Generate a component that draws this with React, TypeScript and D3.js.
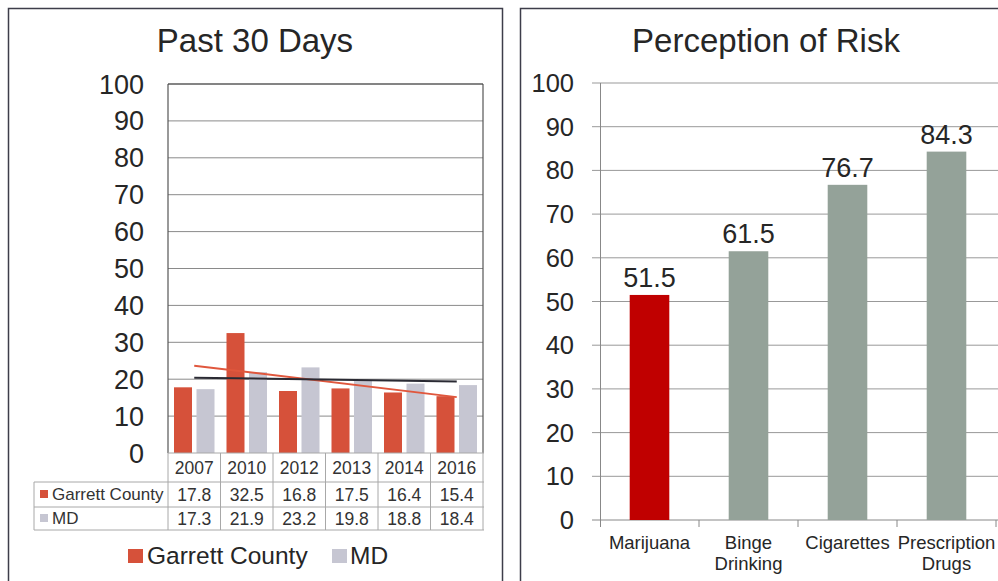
import React from "react";
import * as d3 from "d3";

const years = ["2007", "2010", "2012", "2013", "2014", "2016"];
const garrett = [17.8, 32.5, 16.8, 17.5, 16.4, 15.4];
const md = [17.3, 21.9, 23.2, 19.8, 18.8, 18.4];
const seriesNames = ["Garrett County", "MD"];
const leftTicks = [0, 10, 20, 30, 40, 50, 60, 70, 80, 90, 100];

const riskCats = [["Marijuana"], ["Binge", "Drinking"], ["Cigarettes"], ["Prescription", "Drugs"]];
const riskVals = [51.5, 61.5, 76.7, 84.3];
const rightTicks = [0, 10, 20, 30, 40, 50, 60, 70, 80, 90, 100];

const RED = "#D6513A";
const LAV = "#C6C6D2";
const DARKRED = "#C00000";
const SAGE = "#94A299";
const FONT = "'Liberation Sans', Arial, sans-serif";
const TXT = "#262626";

function regression(vals: number[]) {
  const n = vals.length;
  const xs = vals.map((_, i) => i + 1);
  const mx = d3.mean(xs) as number;
  const my = d3.mean(vals) as number;
  let sxy = 0, sxx = 0;
  xs.forEach((x, i) => { sxy += (x - mx) * (vals[i] - my); sxx += (x - mx) ** 2; });
  const b = sxy / sxx;
  const a = my - b * mx;
  return [a + b * 1, a + b * n];
}

export default function App() {
  const lx = d3.scaleBand<string>().domain(years).range([168, 483]);
  const ly = d3.scaleLinear().domain([0, 100]).range([453, 84]);
  const inner = d3.scaleBand<string>().domain(["g", "m"]).range([6, lx.bandwidth() - 6]).paddingInner(0.2);
  const gTrend = regression(garrett);
  const mTrend = regression(md);
  const xFirst = (lx(years[0]) as number) + lx.bandwidth() / 2;
  const xLast = (lx(years[years.length - 1]) as number) + lx.bandwidth() / 2;

  const rx = d3.scaleBand<number>().domain(riskVals.map((_, i) => i)).range([600, 996]).paddingInner(0.6).paddingOuter(0.3);
  const ry = d3.scaleLinear().domain([0, 100]).range([520, 83]);

  const rowY = [453, 482, 507, 530];
  const tableLeft = 34;

  return (
    <svg width={998} height={581} style={{ position: "absolute", left: 0, top: 0, fontFamily: FONT }}>
      <rect x={0} y={0} width={998} height={581} fill="#fff" />
      {/* Left panel */}
      <rect x={8.5} y={8.5} width={494} height={600} fill="#fff" stroke="#3d3d4a" strokeWidth={1.5} />
      <text x={255} y={52} textAnchor="middle" fontSize={33} fill={TXT}>Past 30 Days</text>
      {leftTicks.map((t) => (
        <g key={t}>
          {t > 0 && <line x1={168} x2={483} y1={ly(t)} y2={ly(t)} stroke="#8a8a8a" strokeWidth={1} />}
          <text x={144} y={ly(t) + 9.5} textAnchor="end" fontSize={27} fill={TXT}>{t}</text>
        </g>
      ))}
      <line x1={168} x2={168} y1={84} y2={453} stroke="#555" strokeWidth={1.2} />
      <line x1={483} x2={483} y1={84} y2={453} stroke="#555" strokeWidth={1.2} />
      <line x1={168} x2={483} y1={84} y2={84} stroke="#444" strokeWidth={1.2} />
      {years.map((yr, i) => (
        <g key={yr}>
          <rect x={(lx(yr) as number) + (inner("g") as number)} width={inner.bandwidth()} y={ly(garrett[i])} height={ly(0) - ly(garrett[i])} fill={RED} />
          <rect x={(lx(yr) as number) + (inner("m") as number)} width={inner.bandwidth()} y={ly(md[i])} height={ly(0) - ly(md[i])} fill={LAV} />
        </g>
      ))}
      <line x1={xFirst} x2={xLast} y1={ly(gTrend[0])} y2={ly(gTrend[1])} stroke="#E0573D" strokeWidth={2} />
      <line x1={xFirst} x2={xLast} y1={ly(mTrend[0])} y2={ly(mTrend[1])} stroke="#2a2a33" strokeWidth={2} />
      {/* data table */}
      <g stroke="#a8a8a8" strokeWidth={1} fill="none">
        <line x1={168} x2={484} y1={rowY[0]} y2={rowY[0]} />
        <line x1={tableLeft} x2={484} y1={rowY[1]} y2={rowY[1]} />
        <line x1={tableLeft} x2={484} y1={rowY[2]} y2={rowY[2]} />
        <line x1={tableLeft} x2={484} y1={rowY[3]} y2={rowY[3]} />
        <line x1={tableLeft} x2={tableLeft} y1={rowY[1]} y2={rowY[3]} />
        <line x1={168} x2={168} y1={rowY[0]} y2={rowY[3]} />
        {years.map((yr) => (
          <line key={yr} x1={(lx(yr) as number) + lx.bandwidth()} x2={(lx(yr) as number) + lx.bandwidth()} y1={rowY[0]} y2={rowY[3]} />
        ))}
      </g>
      {years.map((yr, i) => {
        const cx = (lx(yr) as number) + lx.bandwidth() / 2;
        return (
          <g key={yr} fontSize={17.5} fill="#333" textAnchor="middle">
            <text x={cx} y={474}>{yr}</text>
            <text x={cx} y={501}>{garrett[i].toFixed(1)}</text>
            <text x={cx} y={525}>{md[i].toFixed(1)}</text>
          </g>
        );
      })}
      <rect x={40} y={490} width={8} height={8} fill={RED} />
      <text x={52} y={500} fontSize={17} fill="#333">{seriesNames[0]}</text>
      <rect x={40} y={514} width={8} height={8} fill={LAV} />
      <text x={52} y={524} fontSize={17} fill="#333">{seriesNames[1]}</text>
      {/* legend */}
      <rect x={128} y={549} width={15} height={14} fill={RED} />
      <text x={147} y={564} fontSize={24.5} fill={TXT}>{seriesNames[0]}</text>
      <rect x={332} y={549} width={15} height={14} fill={LAV} />
      <text x={350} y={564} fontSize={24.5} fill={TXT}>{seriesNames[1]}</text>

      {/* Right panel */}
      <rect x={520.5} y={8.5} width={500} height={600} fill="#fff" stroke="#3d3d4a" strokeWidth={1.5} />
      <text x={766} y={52} textAnchor="middle" fontSize={33} fill={TXT}>Perception of Risk</text>
      {rightTicks.map((t) => (
        <g key={t}>
          <line x1={592} x2={998} y1={ry(t)} y2={ry(t)} stroke={t === 0 ? "#888" : "#999"} strokeWidth={1} />
          <text x={574} y={ry(t) + 9} textAnchor="end" fontSize={25.5} fill={TXT}>{t}</text>
        </g>
      ))}
      <line x1={600.5} x2={600.5} y1={83} y2={527} stroke="#888" strokeWidth={1} />
      {riskVals.map((_, i) => {
        const x1 = (rx(i) as number) - rx.step() * 0.3;
        return <line key={"tk" + i} x1={x1 + rx.step()} x2={x1 + rx.step()} y1={520} y2={527} stroke="#888" />;
      })}
      {riskVals.map((v, i) => {
        const x = rx(i) as number;
        const cx = x + rx.bandwidth() / 2;
        return (
          <g key={i}>
            <rect x={x} width={rx.bandwidth()} y={ry(v)} height={ry(0) - ry(v)} fill={i === 0 ? DARKRED : SAGE} />
            <text x={cx} y={ry(v) - 8} textAnchor="middle" fontSize={27} fill={TXT}>{v.toFixed(1)}</text>
            {riskCats[i].map((line, j) => (
              <text key={j} x={cx} y={549 + j * 21} textAnchor="middle" fontSize={18.5} fill={TXT}>{line}</text>
            ))}
          </g>
        );
      })}
    </svg>
  );
}
